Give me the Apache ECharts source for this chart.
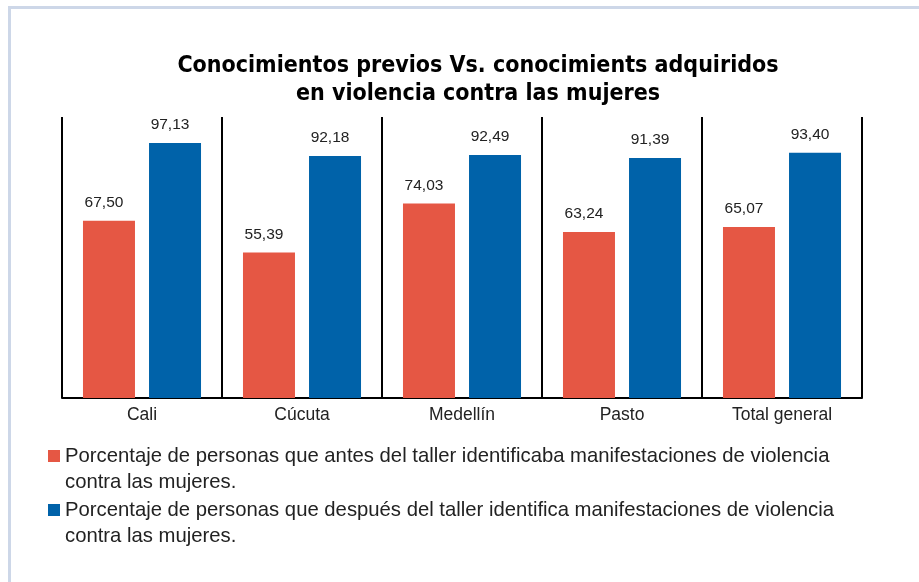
<!DOCTYPE html>
<html>
<head>
<meta charset="utf-8">
<script src="https://cdn.jsdelivr.net/npm/echarts@6/dist/echarts.min.js"></script>
<style>
html,body{margin:0;padding:0;background:#fff;}
#chart{width:919px;height:582px;}
</style>
</head>
<body>
<div id="chart"></div>
<script>
const categories = ['Cali', 'Cúcuta', 'Medellín', 'Pasto', 'Total general'];
const seriesNames = [
  'Porcentaje de personas que antes del taller identificaba manifestaciones de violencia contra las mujeres.',
  'Porcentaje de personas que después del taller identifica manifestaciones de violencia contra las mujeres.'
];
const antes = [67.50, 55.39, 74.03, 63.24, 65.07];
const despues = [97.13, 92.18, 92.49, 91.39, 93.40];
const colors = ['#E55744', '#0062A9'];

const narrow = '"DejaVu Sans Condensed", "Liberation Sans Narrow", Arial, sans-serif';
const regular = '"Liberation Sans", Arial, sans-serif';

const chart = echarts.init(document.getElementById('chart'));
const labelCfg = {
  show: true,
  position: 'top',
  distance: 10,
  offset: [-5, 0],
  color: '#222',
  fontFamily: regular,
  fontSize: 15.5,
  formatter: p => p.value.toFixed(2).replace('.', ',')
};
chart.setOption({
  backgroundColor: '#fff',
  animation: false,
  title: {
    text: 'Conocimientos previos Vs. conocimients adquiridos\nen violencia contra las mujeres',
    left: 473,
    textAlign: 'center',
    top: 47,
    textStyle: {
      fontFamily: narrow,
      fontWeight: 'bold',
      fontSize: 23,
      lineHeight: 28,
      color: '#000'
    }
  },
  graphic: [
    { type: 'rect', shape: { x: 8, y: 6, width: 3, height: 576 }, style: { fill: '#CDD7E8' }, silent: true },
    { type: 'rect', shape: { x: 8, y: 6, width: 911, height: 3 }, style: { fill: '#CDD7E8' }, silent: true }
  ],
  legend: {
    orient: 'vertical',
    left: 48,
    top: 417,
    padding: 0,
    itemWidth: 12,
    itemHeight: 12,
    itemGap: -24,
    icon: 'rect',
    data: seriesNames,
    formatter: n => '\n' + n.replace(' contra las mujeres.', '\ncontra las mujeres.'),
    textStyle: {
      fontFamily: regular,
      fontSize: 20.3,
      lineHeight: 26,
      color: '#222'
    }
  },
  grid: { left: 62, right: 57, top: 117, bottom: 184 },
  xAxis: {
    type: 'category',
    data: categories,
    axisLine: { show: true, lineStyle: { color: '#000', width: 2 } },
    axisTick: { show: false },
    splitLine: { show: true, lineStyle: { color: '#000', width: 2 } },
    axisLabel: { color: '#222', fontFamily: regular, fontSize: 17.5, margin: 8 }
  },
  yAxis: {
    type: 'value',
    min: 0,
    max: 107,
    show: false
  },
  series: [
    {
      name: seriesNames[0], type: 'bar', data: antes, barWidth: 52, barGap: '27%',
      itemStyle: { color: colors[0] }, label: labelCfg
    },
    {
      name: seriesNames[1], type: 'bar', data: despues, barWidth: 52, barGap: '27%',
      itemStyle: { color: colors[1] }, label: labelCfg
    }
  ]
});
</script>
</body>
</html>
